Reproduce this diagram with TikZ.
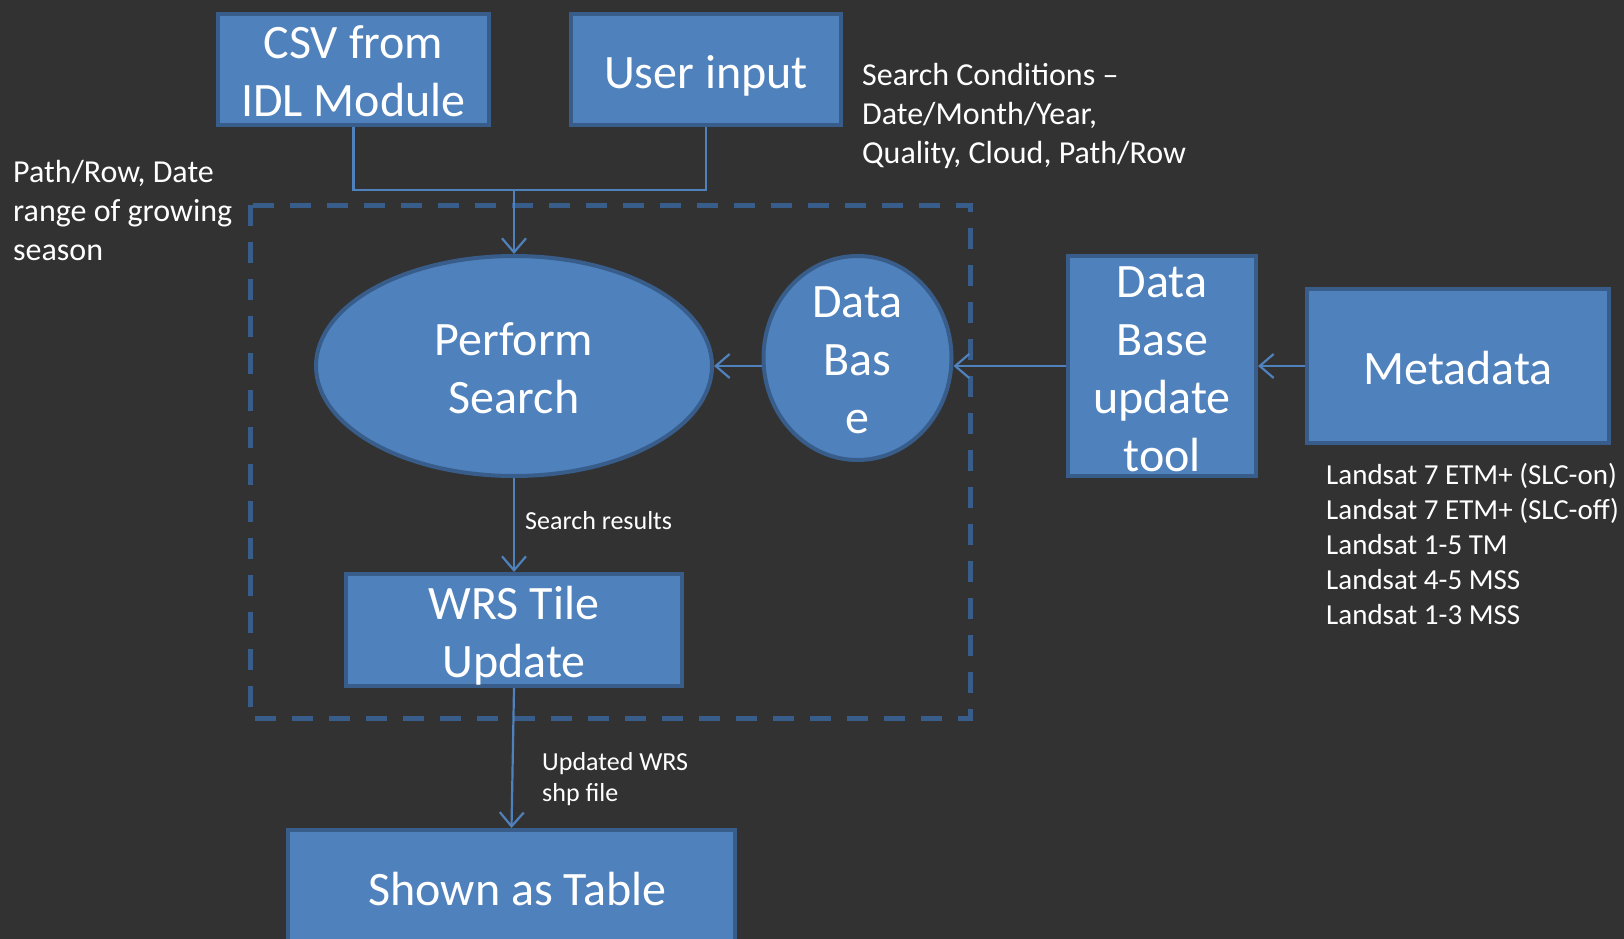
\documentclass[tikz,border=0pt]{standalone}
\usepackage{fontspec}
\setmainfont{Carlito}
\usetikzlibrary{shapes.geometric,arrows.meta}
\definecolor{bg}{RGB}{50,50,50}
\definecolor{boxfill}{HTML}{4F81BD}
\definecolor{boxline}{HTML}{385D8A}
\definecolor{conn}{HTML}{4F81BD}
\tikzset{
  blockbox/.style={draw=boxline, fill=boxfill, line width=4pt, inner sep=0pt},
  blockell/.style={blockbox, ellipse},
  blocktext/.style={text=white, align=center, inner sep=0pt, font=\fontsize{48}{58}\selectfont},
  conline/.style={draw=conn, line width=2.2pt},
  conarrow/.style={conline, -{Straight Barb[length=14pt,width=24pt,line width=2.2pt]}},
  labbig/.style={text=white, align=left, inner sep=0pt, anchor=west, font=\fontsize{32}{39}\selectfont},
  labmid/.style={text=white, align=left, inner sep=0pt, anchor=west, font=\fontsize{29}{35}\selectfont},
  labsmall/.style={text=white, align=left, inner sep=0pt, anchor=west, font=\fontsize{26}{31}\selectfont},
  dashbox/.style={draw=boxline, line width=5pt, dash pattern=on 21pt off 16pt}
}
\begin{document}
\begin{tikzpicture}[x=1pt,y=-1pt]
\useasboundingbox (0,0) rectangle (1624,939);
\fill[bg] (0,0) rectangle (1624,939);
\clip (0,0) rectangle (1624,939);

% dashed region
\draw[dashbox] (250,205) rectangle (970,718);

% shapes
\node[blockbox, minimum width=271pt, minimum height=111pt] (csv) at (353.5,69.5) {};
\node[blockbox, minimum width=270pt, minimum height=111pt] (user) at (706,69.5) {};
\node[blockell, minimum width=396pt, minimum height=220pt] (search) at (514,366) {};
\node[blockell, minimum width=188pt, minimum height=204pt] (db) at (857.5,358) {};
\node[blockbox, minimum width=188pt, minimum height=220pt] (dbtool) at (1162,366) {};
\node[blockbox, minimum width=302pt, minimum height=154pt] (meta) at (1458,366) {};
\node[blockbox, minimum width=336pt, minimum height=112pt] (wrs) at (514,630) {};
\node[blockbox, minimum width=447pt, minimum height=118pt] (table) at (511.5,889) {};

% texts in shapes
\node[blocktext] (csvtext) at ([yshift=-2pt]csv.center) {CSV from\\IDL Module};
\node[blocktext] (usertext) at ([yshift=-6pt]user.center) {User input};
\node[blocktext] (searchtext) at ([yshift=-2pt]search.center) {Perform\\Search};
\node[blocktext] (dbtext) at ([yshift=-2.5pt]db.center) {Data\\Bas\\e};
\node[blocktext] (dbtooltext) at ([yshift=-3pt]dbtool.center) {Data\\Base\\update\\tool};
\node[blocktext] (metatext) at ([yshift=-2pt]meta.center) {Metadata};
\node[blocktext] (wrstext) at ([yshift=-6pt]wrs.center) {WRS Tile\\Update};
\node[blocktext] (tabletext) at ([xshift=6pt]table.center) {Shown as Table};

% connectors
\coordinate (join) at (514,190);
\draw[conline] (csv.south) |- (join) -| (user.south);
\draw[conarrow] (join) -- (search.north);
\draw[conarrow] (db.west |- search.east) -- (search.east);
\draw[conarrow] (dbtool.west) -- (dbtool.west -| db.east);
\draw[conarrow] (meta.west) -- (meta.west -| dbtool.east);
\draw[conarrow] (search.south) -- (wrs.north);
\draw[conarrow] (wrs.south) -- (table.north);

% labels
\node[labbig] (cond) at (862,116) {Search Conditions --\\Date/Month/Year,\\Quality, Cloud, Path/Row};
\node[labbig] (pathrow) at (13,210.5) {Path/Row, Date\\range of growing\\season};
\node[labmid] (landsat) at (1326,543.5) {Landsat 7 ETM+ (SLC-on)\\Landsat 7 ETM+ (SLC-off)\\Landsat 1-5 TM\\Landsat 4-5 MSS\\Landsat 1-3 MSS};
\node[labsmall] (sres) at (525,521) {Search results};
\node[labsmall] (upd) at (542,779) {Updated WRS\\shp file};
\end{tikzpicture}
\end{document}
